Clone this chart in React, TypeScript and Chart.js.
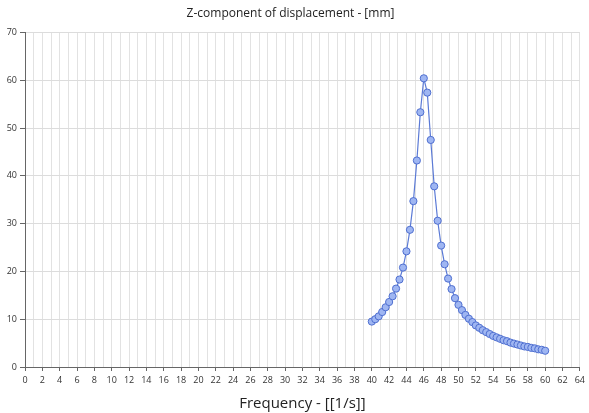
import React, { useEffect, useRef } from "react";
import { Chart, registerables } from "chart.js";

Chart.register(...registerables);

const chartTitle = "Z-component of displacement - [mm]";
const xAxisTitle = "Frequency - [[1/s]]";

const frequencies = [
  40.0, 40.4, 40.8, 41.2, 41.6, 42.0, 42.4, 42.8, 43.2, 43.6,
  44.0, 44.4, 44.8, 45.2, 45.6, 46.0, 46.4, 46.8, 47.2, 47.6,
  48.0, 48.4, 48.8, 49.2, 49.6, 50.0, 50.4, 50.8, 51.2, 51.6,
  52.0, 52.4, 52.8, 53.2, 53.6, 54.0, 54.4, 54.8, 55.2, 55.6,
  56.0, 56.4, 56.8, 57.2, 57.6, 58.0, 58.4, 58.8, 59.2, 59.6,
  60.0,
];

const displacement = [
  9.5, 10.0, 10.6, 11.5, 12.5, 13.6, 14.8, 16.4, 18.3, 20.8,
  24.2, 28.7, 34.7, 43.2, 53.3, 60.4, 57.4, 47.5, 37.8, 30.6,
  25.4, 21.5, 18.5, 16.3, 14.4, 13.0, 11.9, 10.9, 10.1, 9.4,
  8.7, 8.2, 7.7, 7.3, 6.9, 6.5, 6.2, 5.9, 5.6, 5.4,
  5.1, 4.9, 4.7, 4.5, 4.3, 4.2, 4.0, 3.9, 3.7, 3.6,
  3.4,
];

const xMin = 0;
const xMax = 64;
const yMin = 0;
const yMax = 70;

export default function App() {
  const canvasRef = useRef<HTMLCanvasElement | null>(null);

  useEffect(() => {
    if (!canvasRef.current) return;
    const font = "'Open Sans', 'Noto Sans', sans-serif";
    const chart = new Chart(canvasRef.current, {
      type: "line",
      data: {
        datasets: [
          {
            data: frequencies.map((f, i) => ({ x: f, y: displacement[i] })),
            borderColor: "#5b7ad6",
            borderWidth: 1.2,
            backgroundColor: "#9fb6f2",
            pointBackgroundColor: "#9fb6f2",
            pointBorderColor: "#4f6fd0",
            pointBorderWidth: 1,
            pointRadius: 3.6,
            tension: 0,
            fill: false,
          },
        ],
      },
      options: {
        animation: false,
        responsive: false,
        maintainAspectRatio: false,
        layout: { padding: { left: 0, right: 8, top: 0, bottom: 0 } },
        plugins: {
          legend: { display: false },
          tooltip: { enabled: false },
          title: {
            display: true,
            text: chartTitle,
            color: "#222",
            font: { family: font, size: 12, weight: "normal" },
            padding: { top: 6, bottom: 12 },
          },
        },
        scales: {
          x: {
            type: "linear",
            min: xMin,
            max: xMax,
            ticks: {
              stepSize: 1,
              autoSkip: false,
              maxRotation: 0,
              color: "#333",
              padding: 4,
              font: { family: font, size: 9 },
              callback: (v: any) => (Number(v) % 2 === 0 ? String(v) : ""),
            },
            grid: {
              color: "#e2e2e2",
              lineWidth: 1,
              tickLength: 4,
              tickColor: (ctx: any) =>
                ctx.tick && ctx.tick.value % 2 === 0 ? "#666" : "rgba(0,0,0,0)",
            },
            border: { display: true, color: "#666", width: 1 },
            title: {
              display: true,
              text: xAxisTitle,
              color: "#222",
              font: { family: font, size: 15 },
              padding: { top: 0, bottom: 0 },
            },
            afterFit: (scale: any) => {
              scale.height = 46;
            },
          },
          y: {
            type: "linear",
            min: yMin,
            max: yMax,
            ticks: {
              stepSize: 10,
              color: "#333",
              padding: 3,
              font: { family: font, size: 9 },
            },
            grid: {
              color: "#dcdcdc",
              lineWidth: 1,
              tickLength: 5,
              tickColor: "#666",
            },
            border: { display: true, color: "#666", width: 1 },
            afterFit: (scale: any) => {
              scale.width = 25;
            },
          },
        },
      },
    });
    return () => chart.destroy();
  }, []);

  return (
    <div style={{ position: "fixed", left: 0, top: 0, width: 589, height: 413, background: "#fff" }}>
      <canvas ref={canvasRef} width={589} height={413} style={{ width: 589, height: 413 }} />
    </div>
  );
}
